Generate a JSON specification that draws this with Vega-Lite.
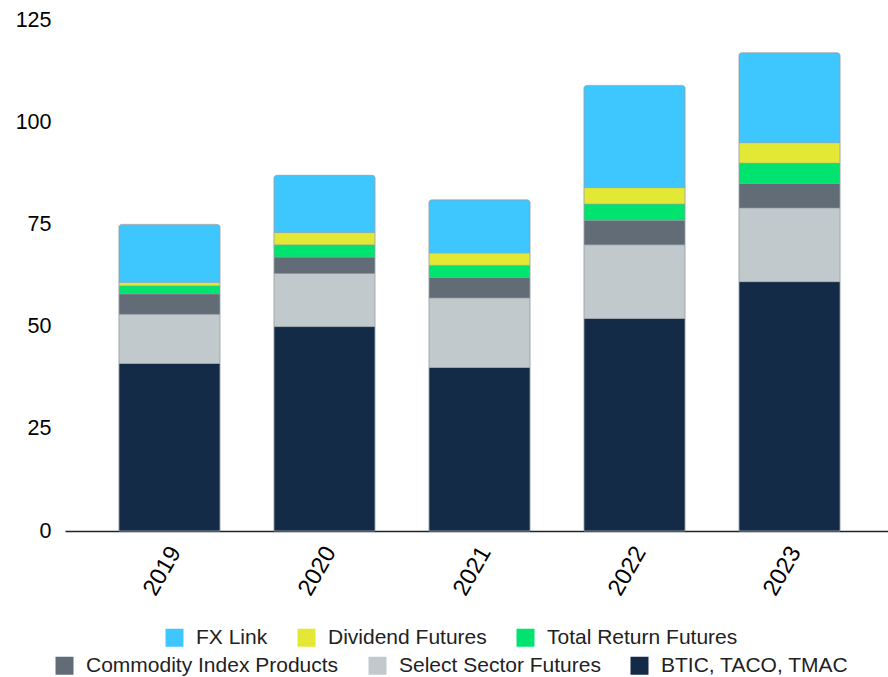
{
  "$schema": "https://vega.github.io/schema/vega-lite/v6.json",
  "width": 823,
  "height": 511,
  "autosize": {"type": "none"},
  "padding": {"left": 65, "top": 20, "right": 0, "bottom": 146},
  "background": "white",
  "config": {
    "view": {"stroke": null},
    "font": "Liberation Sans",
    "legend": {
      "orient": "none",
      "direction": "horizontal",
      "title": null,
      "padding": 0,
      "symbolType": "square",
      "symbolSize": 324,
      "symbolStrokeWidth": 0,
      "labelFont": "Liberation Sans",
      "labelFontSize": 21,
      "labelColor": "#222222",
      "labelOffset": 11,
      "columnPadding": 28,
      "labelLimit": 400
    }
  },
  "data": {
    "values": [
      {"year": "2019", "series": "BTIC, TACO, TMAC", "value": 41},
      {"year": "2019", "series": "Select Sector Futures", "value": 12},
      {"year": "2019", "series": "Commodity Index Products", "value": 5},
      {"year": "2019", "series": "Total Return Futures", "value": 2},
      {"year": "2019", "series": "Dividend Futures", "value": 0.8},
      {"year": "2019", "series": "FX Link", "value": 14.2},
      {"year": "2020", "series": "BTIC, TACO, TMAC", "value": 50},
      {"year": "2020", "series": "Select Sector Futures", "value": 13},
      {"year": "2020", "series": "Commodity Index Products", "value": 4},
      {"year": "2020", "series": "Total Return Futures", "value": 3},
      {"year": "2020", "series": "Dividend Futures", "value": 3},
      {"year": "2020", "series": "FX Link", "value": 14},
      {"year": "2021", "series": "BTIC, TACO, TMAC", "value": 40},
      {"year": "2021", "series": "Select Sector Futures", "value": 17},
      {"year": "2021", "series": "Commodity Index Products", "value": 5},
      {"year": "2021", "series": "Total Return Futures", "value": 3},
      {"year": "2021", "series": "Dividend Futures", "value": 3},
      {"year": "2021", "series": "FX Link", "value": 13},
      {"year": "2022", "series": "BTIC, TACO, TMAC", "value": 52},
      {"year": "2022", "series": "Select Sector Futures", "value": 18},
      {"year": "2022", "series": "Commodity Index Products", "value": 6},
      {"year": "2022", "series": "Total Return Futures", "value": 4},
      {"year": "2022", "series": "Dividend Futures", "value": 4},
      {"year": "2022", "series": "FX Link", "value": 25},
      {"year": "2023", "series": "BTIC, TACO, TMAC", "value": 61},
      {"year": "2023", "series": "Select Sector Futures", "value": 18},
      {"year": "2023", "series": "Commodity Index Products", "value": 6},
      {"year": "2023", "series": "Total Return Futures", "value": 5},
      {"year": "2023", "series": "Dividend Futures", "value": 5},
      {"year": "2023", "series": "FX Link", "value": 22}
    ]
  },
  "transform": [
    {"calculate": "indexof(['BTIC, TACO, TMAC', 'Select Sector Futures', 'Commodity Index Products', 'Total Return Futures', 'Dividend Futures', 'FX Link'], datum.series)", "as": "stackRank"}
  ],
  "encoding": {
    "x": {
      "field": "year",
      "type": "ordinal",
      "title": null,
      "scale": {"range": [0, 829], "paddingInner": 0.348, "paddingOuter": 0.348},
      "axis": {
        "domainColor": "#1a2233",
        "domainWidth": 1.5,
        "ticks": false,
        "grid": false,
        "labelAngle": -60,
        "labelAlign": "right",
        "labelBaseline": "middle",
        "labelFont": "Liberation Sans",
        "labelFontSize": 23.5,
        "labelColor": "#000000",
        "labelPadding": 17,
        "labelOffset": 6
      }
    },
    "y": {
      "field": "value",
      "type": "quantitative",
      "stack": "zero",
      "title": null,
      "scale": {"domain": [0, 125], "nice": false},
      "axis": {
        "values": [0, 25, 50, 75, 100, 125],
        "domain": false,
        "ticks": false,
        "grid": false,
        "labelFont": "Liberation Sans",
        "labelFontSize": 21.5,
        "labelColor": "#000000",
        "labelPadding": 14
      }
    },
    "order": {"field": "stackRank", "type": "quantitative", "sort": "ascending"}
  },
  "layer": [
    {
      "mark": {"type": "bar", "cornerRadiusTopLeft": 3, "cornerRadiusTopRight": 3, "stroke": "#9aa3ab", "strokeWidth": 0.5},
      "encoding": {
        "color": {
          "field": "series",
          "type": "nominal",
          "scale": {
            "domain": ["BTIC, TACO, TMAC", "Select Sector Futures", "Commodity Index Products", "Total Return Futures", "Dividend Futures", "FX Link"],
            "range": ["#132b47", "#c2c9cc", "#626c77", "#00e36e", "#e3e835", "#3ec6ff"]
          },
          "legend": {
            "values": ["FX Link", "Dividend Futures", "Total Return Futures"],
            "legendX": 99,
            "legendY": 607
          }
        }
      }
    },
    {
      "mark": {"type": "bar", "cornerRadiusTopLeft": 3, "cornerRadiusTopRight": 3, "stroke": "#9aa3ab", "strokeWidth": 0.5},
      "encoding": {
        "color": {
          "field": "series",
          "type": "nominal",
          "scale": {
            "domain": ["BTIC, TACO, TMAC", "Select Sector Futures", "Commodity Index Products", "Total Return Futures", "Dividend Futures", "FX Link"],
            "range": ["#132b47", "#c2c9cc", "#626c77", "#00e36e", "#e3e835", "#3ec6ff"]
          },
          "legend": {
            "values": ["Commodity Index Products", "Select Sector Futures", "BTIC, TACO, TMAC"],
            "legendX": -11,
            "legendY": 635
          }
        }
      }
    }
  ],
  "resolve": {"scale": {"color": "independent"}, "legend": {"color": "independent"}}
}
